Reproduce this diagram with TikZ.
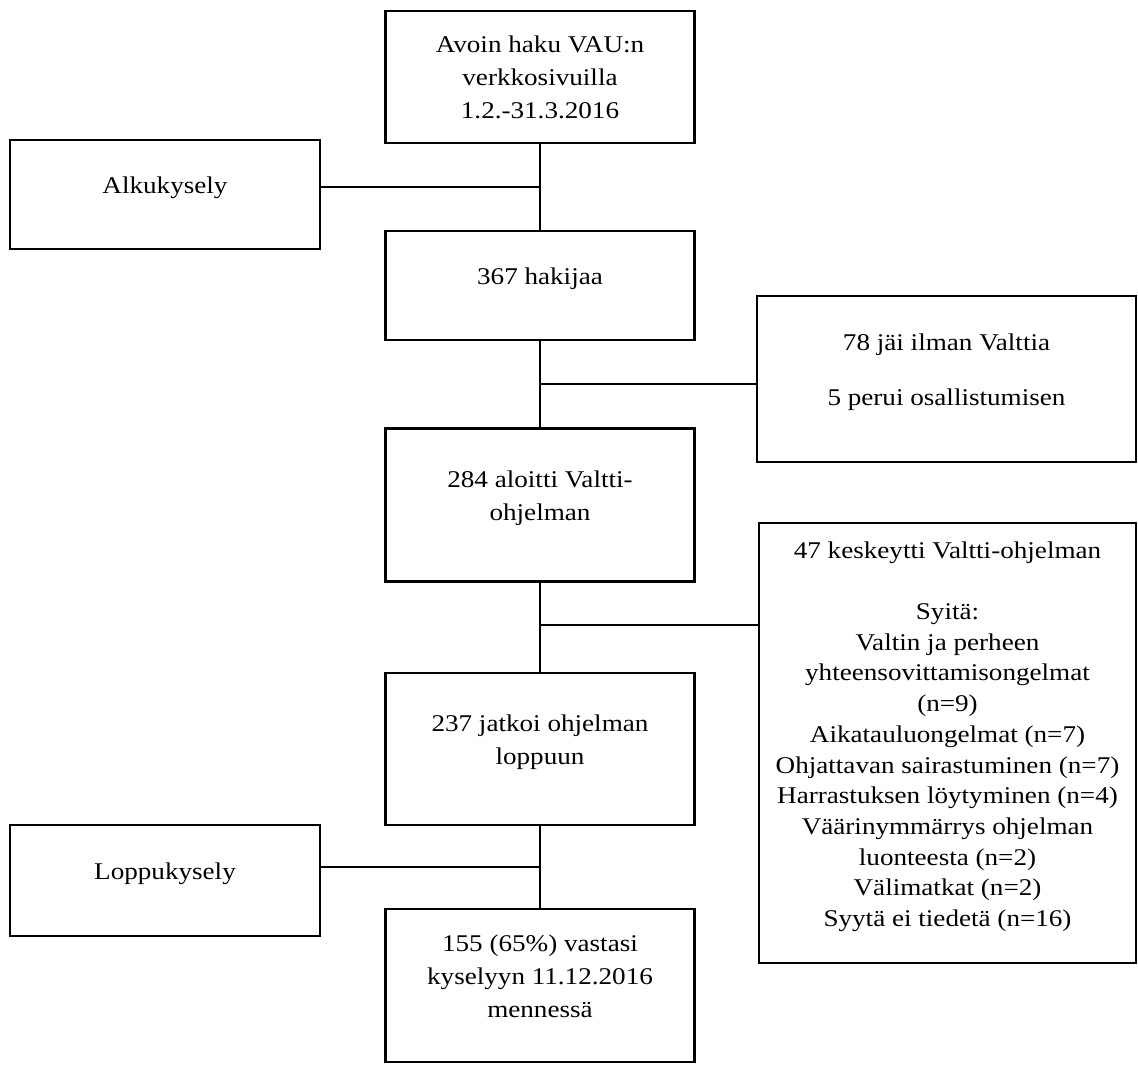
\documentclass[tikz,border=0pt]{standalone}
\usepackage{fontspec}
\setmainfont{Liberation Serif}[FakeStretch=1.13]

\tikzset{
  laatikko/.style={draw, line width=1.4pt, align=center, text depth=9pt,
    font=\fontsize{12}{16.5}\selectfont},
  paa/.style={laatikko, minimum width=154.5pt},
  sivu/.style={laatikko, minimum width=155pt},
  viiva/.style={line width=1.4pt}
}

\begin{document}
\begin{tikzpicture}[x=0.5pt, y=-0.5pt]
  \useasboundingbox (0,0) rectangle (1138,1064);

  \node[paa, minimum height=66pt, text depth=0pt] (haku) at (540,77)
    {Avoin haku VAU:n\\verkkosivuilla\\1.2.-31.3.2016};
  \node[paa, minimum height=54.5pt] (hakijat) at (540,285.5) {367 hakijaa};
  \node[paa, minimum height=76.5pt] (aloitti) at (540,505)
    {284 aloitti Valtti-\\ohjelman};
  \node[paa, minimum height=76pt] (jatkoi) at (540,749)
    {237 jatkoi ohjelman\\loppuun};
  \node[paa, minimum height=76.5pt] (vastasi) at (540,985.5)
    {155 (65\%) vastasi\\kyselyyn 11.12.2016\\mennessä};

  \node[sivu, minimum height=54.5pt] (alkukysely) at (165,194.5) {Alkukysely};
  \node[sivu, minimum height=55.5pt] (loppukysely) at (165,880.5) {Loppukysely};

  \node[laatikko, minimum width=189.5pt, minimum height=83pt] (pois) at (946.5,379)
    {78 jäi ilman Valttia\\[11pt]5 perui osallistumisen};
  \node[laatikko, minimum width=188.5pt, minimum height=220pt,
        font=\fontsize{12}{15.35}\selectfont] (keskeytti) at (947.5,743)
    {47 keskeytti Valtti-ohjelman\\[15.35pt]
     Syitä:\\
     Valtin ja perheen\\
     yhteensovittamisongelmat\\
     (n=9)\\
     Aikatauluongelmat (n=7)\\
     Ohjattavan sairastuminen (n=7)\\
     Harrastuksen löytyminen (n=4)\\
     Väärinymmärrys ohjelman\\
     luonteesta (n=2)\\
     Välimatkat (n=2)\\
     Syytä ei tiedetä (n=16)};

  % liitoskohdat
  \coordinate (h1) at (540,187);
  \coordinate (h2) at (540,384);
  \coordinate (h3) at (540,625);
  \coordinate (h4) at (540,867);

  \draw[viiva] (haku) -- (hakijat);
  \draw[viiva] (hakijat) -- (aloitti);
  \draw[viiva] (aloitti) -- (jatkoi);
  \draw[viiva] (jatkoi) -- (vastasi);
  \draw[viiva] (alkukysely.east |- h1) -- (h1);
  \draw[viiva] (h2) -- (pois.west |- h2);
  \draw[viiva] (h3) -- (keskeytti.west |- h3);
  \draw[viiva] (loppukysely.east |- h4) -- (h4);
\end{tikzpicture}
\end{document}
